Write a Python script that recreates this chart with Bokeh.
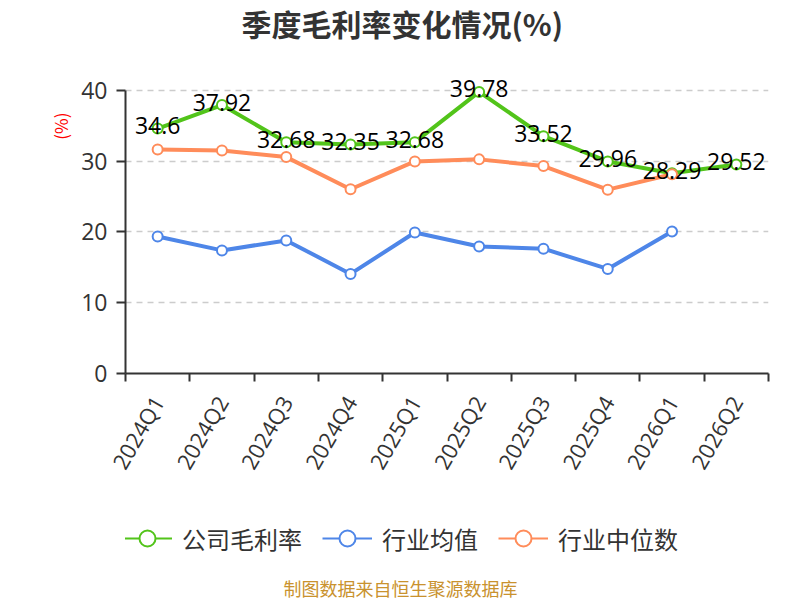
import math
from bokeh.plotting import figure
from bokeh.layouts import column
from bokeh.models import Range1d, FixedTicker, Legend, LegendItem, Title, Label
from bokeh.core.properties import value
from bokeh.embed import file_html
from bokeh.resources import INLINE

quarters = ["2024Q1", "2024Q2", "2024Q3", "2024Q4", "2025Q1",
            "2025Q2", "2025Q3", "2025Q4", "2026Q1", "2026Q2"]
company = [34.6, 37.92, 32.68, 32.35, 32.68, 39.78, 33.52, 29.96, 28.29, 29.52]
industry_mean = [19.36, 17.39, 18.80, 14.07, 19.92, 17.95, 17.63, 14.77, 20.06]
industry_median = [31.65, 31.51, 30.57, 26.03, 29.96, 30.25, 29.30, 25.97, 28.14]
y_ticks = [0, 10, 20, 30, 40]
series_names = ["公司毛利率", "行业均值", "行业中位数"]
colors = ["#52c41a", "#4e86e8", "#ff8c5a"]

CN = "Noto Sans CJK SC"
NUM = "Open Sans"

W = 800
H1, H2 = 484, 116
LEFT, RIGHT = 125, 32
TOP, BOTTOM = 42, 110
frame_h = H1 - TOP - BOTTOM
gap_above_40 = 90 - TOP
px_per_unit = (frame_h - gap_above_40) / 40.0
y_top = 40 + gap_above_40 / px_per_unit

# ---------------- main chart ----------------
p = figure(width=W, height=H1, title=None,
           x_range=Range1d(0.5, len(quarters) + 0.5), y_range=Range1d(0, y_top),
           output_backend="svg", toolbar_location=None,
           min_border_left=LEFT, min_border_right=RIGHT,
           min_border_top=TOP, min_border_bottom=BOTTOM)
p.outline_line_color = None
p.background_fill_color = "white"

xs_all = list(range(1, len(quarters) + 1))

p.xaxis.ticker = FixedTicker(ticks=xs_all, minor_ticks=[i + 0.5 for i in range(0, len(quarters) + 1)])
p.xaxis.major_label_overrides = {i: q for i, q in zip(xs_all, quarters)}
p.xaxis.major_tick_line_color = None
p.xaxis.major_tick_out = 0
p.xaxis.minor_tick_out = 8
p.xaxis.minor_tick_in = 0
p.xaxis.minor_tick_line_color = "#333333"
p.xaxis.minor_tick_line_width = 2
p.xaxis.major_label_orientation = math.pi / 3
p.xaxis.major_label_text_font_size = "22px"
p.xaxis.major_label_text_color = "#333333"
p.xaxis.major_label_text_font = NUM
p.xaxis.major_label_standoff = 16
p.xaxis.axis_line_color = "#333333"
p.xaxis.axis_line_width = 2

p.yaxis.ticker = FixedTicker(ticks=y_ticks, minor_ticks=[])
p.yaxis.bounds = (0, 40)
p.yaxis.major_tick_out = 9
p.yaxis.major_tick_in = 0
p.yaxis.major_tick_line_color = "#333333"
p.yaxis.major_tick_line_width = 2
p.yaxis.minor_tick_line_color = None
p.yaxis.major_label_text_font_size = "23px"
p.yaxis.major_label_text_color = "#333333"
p.yaxis.major_label_text_font = NUM
p.yaxis.major_label_standoff = 9
p.yaxis.axis_line_color = "#333333"
p.yaxis.axis_line_width = 2

p.xgrid.grid_line_color = None
p.ygrid.ticker = FixedTicker(ticks=y_ticks[1:])
p.ygrid.grid_line_color = "#cccccc"
p.ygrid.grid_line_width = 1.5
p.ygrid.grid_line_dash = "6 5"

data = [company, industry_mean, industry_median]
for name, vals, c in zip(series_names, data, colors):
    xs = xs_all[:len(vals)]
    p.line(xs, vals, line_color=c, line_width=4)
    p.scatter(xs, vals, marker="circle", size=10, fill_color="white",
              line_color=c, line_width=2)

p.text(x=xs_all, y=company, text=[f"{v:g}" for v in company],
       text_align="center", text_baseline="middle", y_offset=-3,
       text_font_size="23px", text_color="black", text_font=value(NUM))

unit = Title(text="(%)", align="right", offset=112 - TOP, standoff=12,
             text_font_size="17px", text_color="red", text_font=CN,
             text_font_style="normal")
p.add_layout(unit, "left")

title = Title(text="季度毛利率变化情况(%)", align="left", offset=116, standoff=-4,
              text_font_size="30px", text_font_style="bold",
              text_color="#333333", text_font=CN)
p.add_layout(title, "above")

# ---------------- legend + source strip ----------------
# x range in page pixels over the (aligned) frame, y range in strip pixels
q = figure(width=W, height=H2, title=None,
           x_range=Range1d(LEFT, W - RIGHT), y_range=Range1d(0, H2),
           x_axis_location=None, y_axis_location=None,
           output_backend="svg", toolbar_location=None,
           min_border_left=LEFT, min_border_right=RIGHT,
           min_border_top=0, min_border_bottom=0)
q.outline_line_color = None
q.xgrid.visible = False
q.ygrid.visible = False
# series drawn on a range that keeps them out of view; they only feed the legend
q.extra_y_ranges = {"hidden": Range1d(-1000, -900)}
items = []
for name, vals, c in zip(series_names, data, colors):
    xs = [LEFT + 1 + i for i in range(len(vals))]
    ln = q.line(xs, vals, line_color=c, line_width=2, y_range_name="hidden")
    sc = q.scatter(xs, vals, marker="circle", size=10, fill_color="white",
                   line_color=c, line_width=2, y_range_name="hidden")
    items.append(LegendItem(label=name, renderers=[ln, sc]))

legend = Legend(items=items, orientation="horizontal", location=(-3, 42),
                glyph_width=50, glyph_height=40, label_standoff=10, spacing=20,
                padding=0, margin=0, border_line_color=None,
                background_fill_alpha=0, label_text_font_size="24px",
                label_text_font=CN, label_text_color="#333333")
q.add_layout(legend, "center")

q.add_layout(Label(x=W / 2, y=13, text="制图数据来自恒生聚源数据库",
                   text_align="center", text_baseline="middle",
                   text_font_size="18px", text_color="#c9922e", text_font=CN))

layout = column(p, q, spacing=0)
open("out.html", "w").write(file_html(layout, INLINE))
